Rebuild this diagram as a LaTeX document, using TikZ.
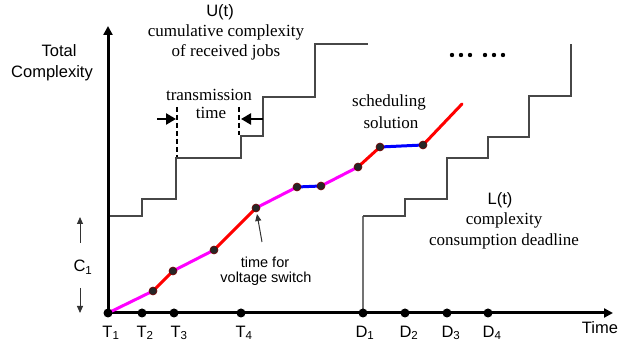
\documentclass[tikz,border=0pt]{standalone}
\usepackage{fontspec}
\setmainfont{Liberation Serif}
\setsansfont{Liberation Sans}
\usetikzlibrary{arrows.meta}
\definecolor{mg}{RGB}{255,0,255}
\definecolor{rd}{RGB}{255,0,0}
\definecolor{bl}{RGB}{0,0,255}
\begin{document}
\begin{tikzpicture}[x=1pt,y=-1pt,
  axis/.style={line width=3pt,-{Triangle[length=9pt,width=9pt]}},
  stair/.style={line width=1.2pt,black!72},
  seg/.style={line width=3pt,line cap=round},
  mag/.style={seg,mg},
  rdl/.style={seg,rd},
  bll/.style={seg,bl},
  cdot/.style={circle,fill=black!85,draw=red!45!black,line width=0.6pt,inner sep=0pt,minimum size=8pt},
  adot/.style={circle,fill=black,inner sep=0pt,minimum size=9pt},
  sf/.style={font=\sffamily\fontsize{16.5}{18}\selectfont,inner sep=0pt},
  sfs/.style={font=\sffamily\fontsize{14.5}{16}\selectfont,inner sep=0pt},
  rm/.style={font=\rmfamily\fontsize{17}{19}\selectfont,inner sep=0pt},
  thinarrow/.style={line width=1pt,black!80,-{Triangle[length=7pt,width=6pt]}},
  tarrow/.style={line width=2.4pt,-{Triangle[length=10pt,width=11pt]}},
  dsh/.style={line width=1.3pt,dash pattern=on 5pt off 3pt}]
\useasboundingbox (0,0) rectangle (643,344);
% axes
\coordinate (O) at (108,313);
\coordinate (ytop) at (108,26);
\coordinate (xend) at (613,313);
% staircase U(t)
\draw[stair] (108,216) coordinate (u0) -- (142,216) -- (142,199) -- (176,199) -- (176,158) -- (241,158) -- (241,136) -- (263,136) -- (263,97) -- (315,97) -- (315,44) -- (368,44) coordinate (u1);
% staircase L(t)
\draw[stair,black!55] (363,313) coordinate (l0) -- (363,216);
\draw[stair] (363,216) -- (405,216) -- (405,199) -- (447,199) -- (447,158) -- (488,158) -- (488,137) -- (529,137) -- (529,96) -- (571,96) -- (571,44) coordinate (l1);
\draw[axis] (O) -- (ytop);
\draw[axis] (O) -- (xend);
% curve points
\coordinate (p0) at (108,313);
\coordinate (p1) at (153,291);
\coordinate (p2) at (173,271);
\coordinate (p3) at (214,250);
\coordinate (p4) at (256,208);
\coordinate (p5) at (297,187);
\coordinate (p6) at (321,186);
\coordinate (p7) at (358,167);
\coordinate (p8) at (380,147);
\coordinate (p9) at (423,145);
\coordinate (p10) at (462,104);
\draw[mag] (p0) -- (p1);
\draw[rdl] (p1) -- (p2);
\draw[mag] (p2) -- (p3);
\draw[rdl] (p3) -- (p4);
\draw[mag] (p4) -- (p5);
\draw[bll] (p5) -- (p6);
\draw[mag] (p6) -- (p7);
\draw[rdl] (p7) -- (p8);
\draw[bll] (p8) -- (p9);
\draw[rdl] (p9) -- (p10);
\foreach \p in {p1,p2,p3,p4,p5,p6,p7,p8,p9} \node[cdot] at (\p) {};
% axis dots
\node[adot] (t1) at (108,313) {};
\node[adot] (t2) at (142,313) {};
\node[adot] (t3) at (174,313) {};
\node[adot] (t4) at (241,313) {};
\node[adot] (d1) at (363,313) {};
\node[adot] (d2) at (405,313) {};
\node[adot] (d3) at (447,313) {};
\node[adot] (d4) at (488,313) {};
% axis labels
\node[sf] (lt1) at (111,333) {T\textsubscript{1}};
\node[sf] (lt2) at (145,333) {T\textsubscript{2}};
\node[sf] (lt3) at (179,333) {T\textsubscript{3}};
\node[sf] (lt4) at (244,333) {T\textsubscript{4}};
\node[sf] (ld1) at (365,333) {D\textsubscript{1}};
\node[sf] (ld2) at (409,333) {D\textsubscript{2}};
\node[sf] (ld3) at (451,333) {D\textsubscript{3}};
\node[sf] (ld4) at (492,333) {D\textsubscript{4}};
\node[sf] (time) at (600,328) {Time};
\node[sf] (total) at (59,51) {Total};
\node[sf] (cplx) at (52,73) {Complexity};
% U(t) text
\node[sf] (ut) at (220,12) {U(t)};
\node[rm] (ut1) at (226,32) {cumulative complexity};
\node[rm] (ut2) at (226,52) {of received jobs};
% L(t) text
\node[sf] (lt) at (500,200) {L(t)};
\node[rm] (lt1t) at (504,220) {complexity};
\node[rm] (lt2t) at (504,241) {consumption deadline};
% scheduling solution
\node[rm] (ss1) at (389,102) {scheduling};
\node[rm] (ss2) at (391,123) {solution};
% transmission time
\node[rm] (tt1) at (209,95) {transmission};
\node[rm] (tt2) at (211,113) {time};
\coordinate (da1) at (177,107); \coordinate (da2) at (177,157);
\coordinate (db1) at (239,107); \coordinate (db2) at (239,135);
\draw[dsh] (da1) -- (da2);
\draw[dsh] (db1) -- (db2);
\coordinate (ta0) at (157,119); \coordinate (ta1) at (176,119);
\coordinate (tb0) at (263,119); \coordinate (tb1) at (241,119);
\draw[tarrow] (ta0) -- (ta1);
\draw[tarrow] (tb0) -- (tb1);
% voltage switch
\node[sfs] (vs1) at (265,262) {time for};
\node[sfs] (vs2) at (266,279) {voltage switch};
\coordinate (vsa) at (262,242);
\draw[thinarrow] (vsa) -- (257,214);
% C1
\node[sf] (c1) at (83,267) {C\textsubscript{1}};
\coordinate (ca0) at (80,243); \coordinate (ca1) at (80,217);
\coordinate (cb0) at (80,288); \coordinate (cb1) at (80,313);
\draw[thinarrow] (ca0) -- (ca1);
\draw[thinarrow] (cb0) -- (cb1);
% ellipsis dots
\foreach \x in {452,461,470,485,494,503} \fill (\x,55) circle (2.2pt);
\end{tikzpicture}
\end{document}
